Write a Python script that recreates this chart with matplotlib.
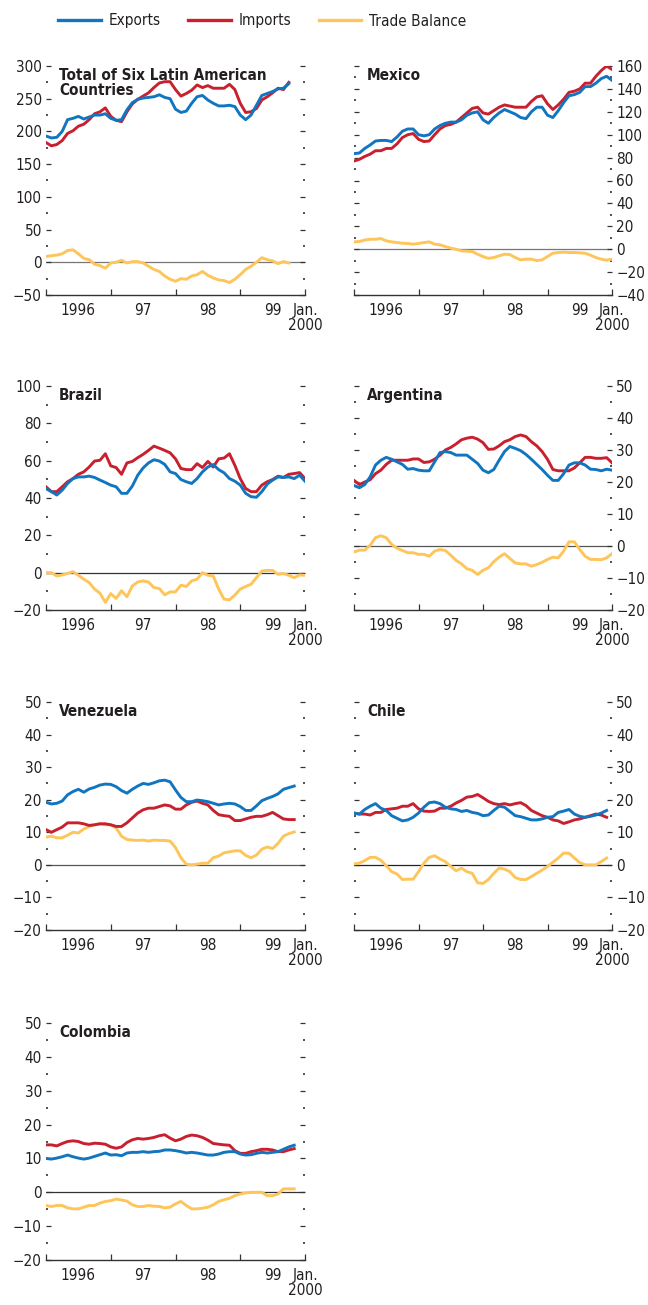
import matplotlib.pyplot as plt
import matplotlib.ticker as mticker
from matplotlib.lines import Line2D
import numpy as np

plt.rcParams['font.family'] = ['DejaVu Sans']
plt.rcParams['font.stretch'] = 'condensed'

# monthly values, Jan 1996 onward (billions of US dollars)
total_exp = [193, 190, 191, 200, 218, 220, 223, 219, 222, 225, 225, 227, 220, 217, 218, 233,
             244, 249, 251, 252, 253, 256, 252, 250, 234, 229, 231, 243, 253, 255, 248, 243,
             239, 239, 240, 238, 225, 218, 225, 240, 255, 258, 261, 265, 266, 273]
total_imp = [183, 178, 180, 186, 197, 201, 208, 211, 218, 227, 230, 236, 223, 217, 215, 230,
             242, 249, 254, 259, 267, 274, 276, 276, 264, 254, 258, 263, 271, 267, 270, 266,
             266, 266, 272, 264, 243, 229, 230, 235, 248, 253, 259, 266, 264, 275]
total_bal = [9, 10, 11, 13, 18, 19, 13, 6, 4, -3, -5, -9, -1, 0, 3, -1,
             1, 1, -1, -6, -11, -14, -21, -26, -29, -25, -26, -21, -19, -14, -20, -24,
             -27, -28, -31, -26, -19, -11, -6, 0, 7, 4, 2, -2, 1, -1]

mex_exp = [83.5, 84, 88, 91, 94.5, 95, 95, 94, 98, 103, 105, 105, 100, 99, 100, 105,
           108, 110, 111, 111, 113, 117, 119, 120, 113, 110, 115, 119, 122, 120, 118, 115,
           114, 120, 124, 124, 117, 115, 121, 128, 134, 135, 137, 142, 142, 145, 149, 151, 147.5]
mex_imp = [77, 78.5, 81, 83, 86, 86, 88, 88, 92, 97.5, 100, 101, 96, 94, 94.5, 100,
           105, 108, 109, 111, 115, 119, 123, 124, 119, 118, 121, 124, 126, 125, 124, 124,
           124, 129, 133, 134, 127, 122, 126, 131, 137, 138, 140, 145, 145, 151, 156, 160, 157]
mex_bal = [6.4, 6.7, 8, 8.7, 8.7, 9.3, 7.3, 6.4, 5.8, 5.2, 5, 4.4, 5, 5.8, 6.4, 4.4,
           3.8, 2.3, 0.9, 0, -1.5, -1.7, -2, -4.4, -6.4, -8, -7.3, -5.8, -4.4, -4.7, -7.3, -9.3,
           -8.7, -8.7, -10, -9.3, -6.4, -3.5, -2.9, -2.6, -2.9, -2.9, -3.2, -3.5, -5.2, -7.3, -8.7, -9.6, -8.7]

bra_exp = [45, 43.4, 41.6, 44.2, 47.8, 50.4, 51.3, 51.3, 51.7, 51, 49.6, 48.3, 46.9, 46, 42.5, 42.5,
           46.4, 52.2, 56.1, 58.8, 60.5, 59.8, 58, 54, 53.1, 49.9, 48.7, 47.8, 50.4, 54, 56.6, 57.9,
           55.2, 53.5, 50.4, 49, 46.9, 42.5, 40.7, 40.4, 43.4, 47.4, 49.6, 51.3, 51, 51.3, 50.4, 52.2, 49]
bra_imp = [46, 43.4, 43.4, 46, 48.7, 50.4, 52.7, 54, 56.6, 59.8, 60.2, 63.7, 57.2, 56.3, 52.7, 58.8,
           59.6, 61.6, 63.4, 65.5, 67.8, 66.7, 65.5, 64.2, 61, 55.8, 55.2, 55.2, 58.4, 56.3, 59.6, 56.6,
           61, 61.4, 63.7, 57.5, 50.4, 45.1, 43.4, 43.4, 46.9, 48.7, 49.9, 51.7, 51, 52.7, 53.1, 53.6, 50.4]
bra_bal = [0, 0, -1.8, -1.2, -0.4, 0.5, -1.4, -3.5, -5.3, -8.8, -11, -15.9, -11.2, -13.8, -9.7, -12.9,
           -7.1, -5, -4.4, -5, -8, -8.5, -11.9, -10.3, -10.3, -6.7, -7.4, -4.4, -3.5, 0, -1.4, -1.8,
           -8.8, -14.2, -14.5, -12, -8.8, -7.4, -6.2, -2.7, 0.9, 1.2, 1.2, -0.9, -0.5, -1.4, -2.7, -1.2, -1.4]

arg_exp = [18.9, 18.2, 19.2, 21.6, 25.3, 26.8, 27.7, 27.1, 26.3, 25.5, 24, 24.2, 23.7, 23.5, 23.5, 26.3,
           29.2, 29.5, 29.2, 28.4, 28.4, 28.4, 27.1, 25.8, 23.7, 22.9, 23.9, 26.8, 29.5, 31.1, 30.5, 29.8,
           28.6, 27.1, 25.5, 23.9, 22.1, 20.5, 20.5, 22.6, 25.3, 26, 26, 25.3, 24, 23.9, 23.5, 24, 23.7]
arg_imp = [20.5, 19.2, 20, 20.7, 22.6, 23.7, 25.5, 26.8, 26.8, 26.8, 26.8, 27.2, 27.2, 26.1, 26.3, 27.1,
           28.4, 30, 30.8, 31.9, 33.2, 33.7, 34, 33.4, 32.3, 30.2, 30.3, 31.3, 32.6, 33.2, 34.2, 34.7,
           34.2, 32.6, 31.3, 29.5, 27.1, 23.9, 23.5, 23.5, 23.5, 24.4, 26, 27.7, 27.7, 27.4, 27.4, 27.6, 26]
arg_bal = [-1.9, -1.3, -1.3, 0.2, 2.6, 3.2, 2.6, 0.5, -0.7, -1.4, -2.1, -2.1, -2.6, -2.6, -3.2, -1.6,
           -1.1, -1.4, -2.9, -4.5, -5.6, -7.1, -7.6, -8.9, -7.6, -6.8, -4.9, -3.5, -2.4, -3.9, -5.3, -5.6,
           -5.6, -6.3, -5.8, -5.1, -4.2, -3.5, -3.7, -1.6, 1.3, 1.3, -1.1, -3.2, -4.2, -4.2, -4.3, -3.7, -2.4]

ven_exp = [19.2, 18.7, 18.9, 19.6, 21.5, 22.5, 23.2, 22.3, 23.3, 23.8, 24.5, 24.8, 24.7, 24, 22.8, 22,
           23.2, 24.2, 25, 24.7, 25.2, 25.8, 26, 25.5, 23, 20.7, 19.4, 19.4, 19.9, 19.7, 19.4, 18.9,
           18.4, 18.7, 18.9, 18.7, 17.9, 16.7, 16.7, 18.1, 19.7, 20.4, 21, 21.8, 23.2, 23.7, 24.2]
ven_imp = [10.8, 10, 10.8, 11.6, 12.9, 12.9, 12.9, 12.6, 12.1, 12.3, 12.6, 12.6, 12.3, 11.8, 11.8, 12.9,
           14.4, 15.9, 16.9, 17.4, 17.4, 17.9, 18.4, 18.1, 17.1, 17.1, 18.4, 19.2, 19.6, 18.9, 18.4, 16.7,
           15.4, 15.1, 14.9, 13.6, 13.6, 14.1, 14.6, 14.9, 14.9, 15.4, 16.1, 15.1, 14.1, 13.9, 13.9]
ven_bal = [8.5, 8.8, 8.3, 8.3, 9.1, 10, 9.8, 11, 11.8, 12.3, 12.6, 12.3, 12.3, 11.3, 8.8, 7.8,
           7.6, 7.5, 7.6, 7.3, 7.6, 7.5, 7.5, 7.3, 5.3, 2.2, 0.2, 0, 0.2, 0.5, 0.5, 2.2,
           2.7, 3.7, 4, 4.3, 4.3, 2.9, 2.2, 3, 4.8, 5.5, 5, 6.6, 8.8, 9.6, 10.1]

chl_exp = [15.9, 15.6, 17, 18, 18.8, 17.4, 16.7, 15.1, 14.3, 13.5, 13.8, 14.6, 15.9, 17.7, 19.1, 19.3,
           18.8, 17.7, 17.2, 17, 16.4, 16.7, 16.1, 15.8, 15.1, 15.3, 16.7, 18, 17.7, 16.4, 15.1, 14.8,
           14.3, 13.8, 13.8, 14.1, 14.6, 14.8, 16.1, 16.5, 17, 15.6, 14.9, 14.6, 14.9, 15.3, 15.9, 16.7]
chl_imp = [15.9, 15.6, 15.6, 15.3, 16.1, 16.1, 17, 17.2, 17.4, 18, 18, 18.8, 17.2, 16.5, 16.4, 16.5,
           17.4, 17.4, 18, 19, 19.8, 20.8, 21, 21.6, 20.6, 19.5, 18.8, 18.5, 18.8, 18.4, 18.8, 19.1,
           18.2, 16.7, 15.9, 15.1, 14.6, 13.8, 13.5, 12.7, 13.2, 13.8, 14.1, 14.6, 15.1, 15.6, 15.3, 14.6]
chl_bal = [0.3, 0.5, 1.3, 2.3, 2.3, 1.4, -0.3, -2.1, -2.8, -4.5, -4.4, -4.4, -2.1, 0.5, 2.3, 2.8,
           1.8, 1, -0.5, -1.8, -1, -2.1, -2.6, -5.5, -5.7, -4.5, -2.6, -1, -1.3, -2.1, -3.9, -4.5,
           -4.5, -3.6, -2.6, -1.6, -0.5, 0.8, 2.1, 3.6, 3.6, 2.1, 0.7, 0, 0, 0, 1, 2.1]

col_exp = [10, 9.8, 10.1, 10.5, 11, 10.5, 10.1, 9.8, 10.1, 10.6, 11.1, 11.6, 11, 11.1, 10.8, 11.6,
           11.8, 11.8, 12, 11.8, 12, 12.1, 12.5, 12.5, 12.3, 12, 11.6, 11.8, 11.6, 11.3, 11, 11,
           11.3, 11.8, 12, 12, 11.3, 11, 11.1, 11.5, 11.8, 11.6, 11.8, 12, 12.7, 13.4, 13.9]
col_imp = [14, 14, 13.7, 14.4, 15, 15.2, 15, 14.4, 14.2, 14.5, 14.4, 14.2, 13.4, 13, 13.4, 14.7,
           15.5, 15.9, 15.7, 15.9, 16.2, 16.7, 17, 16, 15.2, 15.7, 16.5, 16.9, 16.7, 16.2, 15.4, 14.4,
           14.2, 14, 13.9, 12.3, 11.5, 11.5, 12, 12.3, 12.7, 12.7, 12.5, 12, 12, 12.5, 12.9]
col_bal = [-3.9, -4.2, -3.9, -3.9, -4.6, -4.9, -4.9, -4.4, -3.9, -3.9, -3.2, -2.7, -2.5, -2, -2.3, -2.6,
           -3.7, -4.2, -4.2, -3.9, -4.1, -4.2, -4.6, -4.4, -3.4, -2.7, -3.9, -4.9, -4.9, -4.7, -4.4, -3.7,
           -2.7, -2.2, -1.8, -1, -0.5, -0.2, 0, 0, 0, -1, -1, -0.5, 1, 1, 1]

year_labels = ['1996', '97', '98', '99']
end_label = 'Jan.\n2000'

BLUE, RED, YEL = '#1175c0', '#c8202f', '#fdc55a'
TXT = '#231f20'
FS = 11

W, H = 648, 1305
cols = {'L': (46, 259), 'R': (354, 258)}
rows = [(66, 295), (386, 610), (702, 930), (1023, 1260)]

panels = [
    ('Total of Six Latin American\nCountries', 'L', 0, total_exp, total_imp, total_bal, (-50, 300), 50, '#777777'),
    ('Mexico', 'R', 0, mex_exp, mex_imp, mex_bal, (-40, 160), 20, '#777777'),
    ('Brazil', 'L', 1, bra_exp, bra_imp, bra_bal, (-20, 100), 20, '#333333'),
    ('Argentina', 'R', 1, arg_exp, arg_imp, arg_bal, (-20, 50), 10, '#555555'),
    ('Venezuela', 'L', 2, ven_exp, ven_imp, ven_bal, (-20, 50), 10, '#555555'),
    ('Chile', 'R', 2, chl_exp, chl_imp, chl_bal, (-20, 50), 10, '#222222'),
    ('Colombia', 'L', 3, col_exp, col_imp, col_bal, (-20, 50), 10, '#333333'),
]

fig = plt.figure(figsize=(W / 100, H / 100), dpi=100)

for name, col, row, ex, im, bal, ylim, step, zc in panels:
    x0, w = cols[col]
    top, bot = rows[row]
    ax = fig.add_axes([x0 / W, 1 - bot / H, w / W, (bot - top) / H])
    ax.axhline(0, color=zc, lw=0.9, zorder=1)
    ax.plot(np.arange(len(bal)), bal, color=YEL, lw=2.1, zorder=2)
    ax.plot(np.arange(len(im)), im, color=RED, lw=2.1, zorder=3)
    ax.plot(np.arange(len(ex)), ex, color=BLUE, lw=2.1, zorder=4)
    ax.set_xlim(0, 48)
    ax.set_ylim(*ylim)
    for s in ('top', 'left', 'right'):
        ax.spines[s].set_visible(False)
    ax.spines['bottom'].set_color('#333333')
    ax.spines['bottom'].set_linewidth(1.0)

    ax.yaxis.set_major_locator(mticker.MultipleLocator(step))
    ax.yaxis.set_minor_locator(mticker.MultipleLocator(step / 2))
    right = col == 'R'
    ax.tick_params(axis='y', which='major', direction='in', left=True, right=True,
                   labelleft=not right, labelright=right, length=3.5, width=0.9,
                   color='#333333', labelsize=FS, labelcolor=TXT, pad=3)
    ax.tick_params(axis='y', which='minor', direction='in', left=True, right=True,
                   length=1.2, width=1.2, color='#333333')

    ax.set_xticks([0, 12, 24, 36, 48])
    ax.set_xticklabels(['', '', '', '', end_label])
    ax.set_xticks([6, 18, 30, 42], minor=True)
    ax.set_xticklabels(year_labels, minor=True)
    ax.tick_params(axis='x', which='major', direction='in', length=4, width=0.9,
                   color='#333333', labelsize=FS, labelcolor=TXT, pad=6)
    ax.tick_params(axis='x', which='minor', length=0, labelsize=FS, labelcolor=TXT, pad=6)
    for t in ax.get_xticklabels():
        t.set_linespacing(1.0)

    ax.annotate(name, xy=(0, 1), xycoords='axes fraction', xytext=(13, -2),
                textcoords='offset pixels', ha='left', va='top', fontsize=FS,
                fontweight='bold', color=TXT, linespacing=1.0)

handles = [Line2D([], [], color=BLUE, lw=2.4), Line2D([], [], color=RED, lw=2.4),
           Line2D([], [], color=YEL, lw=2.4)]
fig.legend(handles, ['Exports', 'Imports', 'Trade Balance'], loc='center left',
           bbox_to_anchor=(58 / W, 1 - 21 / H), ncol=3, frameon=False, fontsize=FS,
           handlelength=2.8, handletextpad=0.5, columnspacing=1.8, labelcolor=TXT,
           borderpad=0, borderaxespad=0)

fig.savefig('out.png', dpi=100)
